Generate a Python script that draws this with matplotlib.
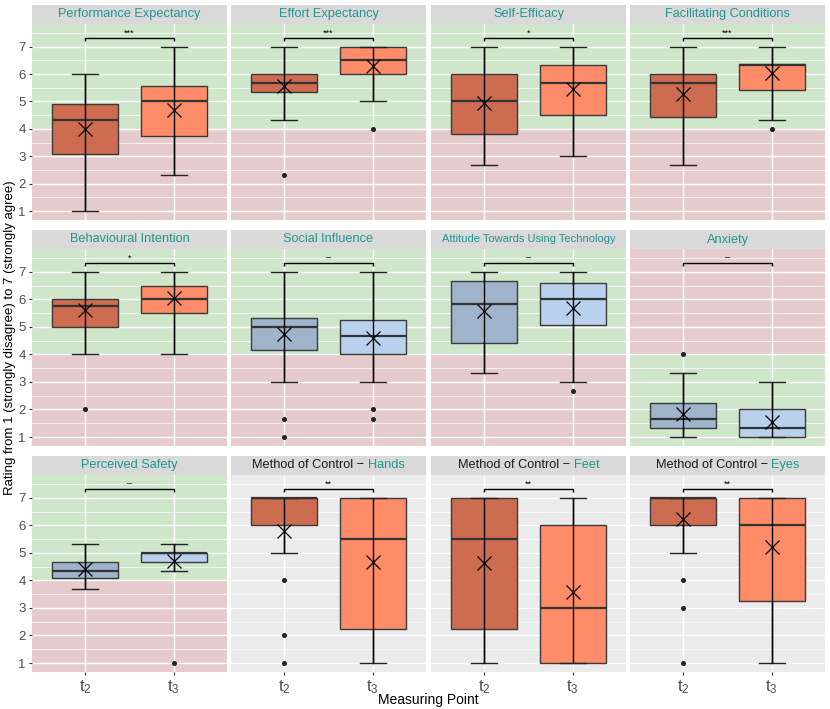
import matplotlib
matplotlib.use("Agg")
import matplotlib.pyplot as plt
from matplotlib.patches import Rectangle
from matplotlib.offsetbox import TextArea, HPacker, AnnotationBbox

plt.rcParams["font.family"] = ["Liberation Sans", "DejaVu Sans"]

# ---- data -------------------------------------------------------------
titles = [
    "Performance Expectancy", "Effort Expectancy", "Self-Efficacy",
    "Facilitating Conditions", "Behavioural Intention", "Social Influence",
    "Attitude Towards Using Technology", "Anxiety", "Perceived Safety",
    "Hands", "Feet", "Eyes",
]
method_prefix = [False] * 9 + [True] * 3
sig = ["***", "***", "*", "***", "*", "–", "–", "–", "–", "**", "**", "**"]
background = ["good_high"] * 7 + ["good_low"] + ["good_high"] + ["neutral"] * 3
palette = ["orange"] * 5 + ["blue"] * 4 + ["orange"] * 3
x_labels = ["$\\mathregular{t_2}$", "$\\mathregular{t_3}$"]

# t2 statistics per panel
t2_lo = [1.0, 4.33, 2.67, 2.67, 4.0, 3.0, 3.33, 1.0, 3.67, 5.0, 1.0, 5.0]
t2_q1 = [3.08, 5.33, 3.83, 4.42, 5.0, 4.17, 4.42, 1.33, 4.08, 6.0, 2.25, 6.0]
t2_med = [4.33, 5.67, 5.0, 5.67, 5.75, 5.0, 5.83, 1.67, 4.33, 7.0, 5.5, 7.0]
t2_q3 = [4.92, 6.0, 6.0, 6.0, 6.0, 5.33, 6.67, 2.25, 4.67, 7.0, 7.0, 7.0]
t2_hi = [6.0, 7.0, 7.0, 7.0, 7.0, 7.0, 7.0, 3.33, 5.33, 7.0, 7.0, 7.0]
t2_mean = [4.0, 5.58, 4.95, 5.28, 5.6, 4.73, 5.56, 1.85, 4.43, 5.8, 4.63, 6.22]
t2_out = [[], [2.33], [], [], [2.0], [1.67, 1.0], [], [4.0], [],
          [4.0, 2.0, 1.0], [], [4.0, 3.0, 1.0]]

# t3 statistics per panel
t3_lo = [2.33, 5.0, 3.0, 4.33, 4.0, 3.0, 3.0, 1.0, 4.33, 1.0, 1.0, 1.0]
t3_q1 = [3.75, 6.0, 4.5, 5.42, 5.5, 4.0, 5.08, 1.0, 4.67, 2.25, 1.0, 3.25]
t3_med = [5.0, 6.5, 5.67, 6.33, 6.0, 4.67, 6.0, 1.33, 5.0, 5.5, 3.0, 6.0]
t3_q3 = [5.58, 7.0, 6.33, 6.36, 6.5, 5.25, 6.58, 2.0, 5.0, 7.0, 6.0, 7.0]
t3_hi = [7.0, 7.0, 7.0, 7.0, 7.0, 7.0, 7.0, 3.0, 5.33, 7.0, 7.0, 7.0]
t3_mean = [4.67, 6.3, 5.46, 6.03, 6.04, 4.59, 5.68, 1.54, 4.7, 4.67, 3.58, 5.21]
t3_out = [[], [4.0], [], [4.0], [], [2.0, 1.67], [2.67], [], [1.0],
          [], [], []]

# ---- styling ----------------------------------------------------------
fills = {"orange": ["#cd6c50", "#ff8c69"], "blue": ["#9fb3cb", "#b9d1ed"]}
GREEN, RED, GREY = "#cfe6cb", "#e6cbcc", "#ebebeb"
TEAL = "#1f9693"
STRIP = "#d9d9d9"

W, H = 830, 709
col_left = [32, 231, 431, 630]
panel_w = 195
row_top = [24, 249, 475]
row_bot = [220, 446, 672]
strip_h = 19

fig = plt.figure(figsize=(W / 100, H / 100), dpi=100)

for i, title in enumerate(titles):
    r, c = divmod(i, 4)
    ph = row_bot[r] - row_top[r]
    ax = fig.add_axes([col_left[c] / W, 1 - row_bot[r] / H, panel_w / W, ph / H])
    ax.set_xlim(0.4, 2.6)
    ax.set_ylim(0.675, 7.825)

    # background zones
    if background[i] == "good_high":
        ax.axhspan(4, 7.825, color=GREEN, zorder=0, lw=0)
        ax.axhspan(0.675, 4, color=RED, zorder=0, lw=0)
    elif background[i] == "good_low":
        ax.axhspan(4, 7.825, color=RED, zorder=0, lw=0)
        ax.axhspan(0.675, 4, color=GREEN, zorder=0, lw=0)
    else:
        ax.set_facecolor(GREY)

    for y in range(1, 8):
        ax.axhline(y, color="white", lw=1.0, zorder=0.5)
    for y in [1.5, 2.5, 3.5, 4.5, 5.5, 6.5, 7.5]:
        ax.axhline(y, color="white", lw=0.5, zorder=0.5)
    for x in [1, 2]:
        ax.axvline(x, color="white", lw=1.0, zorder=0.5)

    stats = [
        dict(med=t2_med[i], q1=t2_q1[i], q3=t2_q3[i], whislo=t2_lo[i],
             whishi=t2_hi[i], mean=t2_mean[i], fliers=t2_out[i]),
        dict(med=t3_med[i], q1=t3_q1[i], q3=t3_q3[i], whislo=t3_lo[i],
             whishi=t3_hi[i], mean=t3_mean[i], fliers=t3_out[i]),
    ]
    bp = ax.bxp(
        stats, positions=[1, 2], widths=0.75, capwidths=0.3,
        patch_artist=True, showmeans=True, manage_ticks=False,
        boxprops=dict(edgecolor="#3a3a3a", lw=1.0),
        medianprops=dict(color="#333333", lw=1.6),
        whiskerprops=dict(color="black", lw=1.0),
        capprops=dict(color="#222222", lw=1.0),
        meanprops=dict(marker="x", markersize=10, markeredgecolor="black",
                       markeredgewidth=0.9),
        flierprops=dict(marker="o", markersize=2.6, markerfacecolor="#222222",
                        markeredgecolor="#222222"),
    )
    for patch, col in zip(bp["boxes"], fills[palette[i]]):
        patch.set_facecolor(col)
        patch.set_zorder(2)
    for m in bp["medians"]:
        m.set_zorder(2.5)
    # errorbar line through the box
    ax.vlines([1, 2], [t2_lo[i], t3_lo[i]], [t2_hi[i], t3_hi[i]],
              color="black", lw=1.0, zorder=3)
    for m in bp["means"]:
        m.set_zorder(4)

    # significance bracket
    ax.plot([1, 1, 2, 2], [7.22, 7.3, 7.3, 7.22], color="black", lw=1.0,
            zorder=3, solid_capstyle="butt")
    ax.text(1.5, 7.5, sig[i], ha="center", va="center", fontsize=6.5)

    # strip
    ax.add_patch(Rectangle((0, 1), 1, strip_h / ph, transform=ax.transAxes,
                           facecolor=STRIP, edgecolor="none", clip_on=False))
    ys = 1 + strip_h / ph / 2
    fs = 8.0 if i == 6 else 9.2
    if method_prefix[i]:
        box = HPacker(children=[
            TextArea("Method of Control − ", textprops=dict(color="#1a1a1a", fontsize=fs)),
            TextArea(title, textprops=dict(color=TEAL, fontsize=fs)),
        ], align="baseline", pad=0, sep=0)
        ab = AnnotationBbox(box, (0.5, ys), xycoords="axes fraction",
                            frameon=False, box_alignment=(0.5, 0.5),
                            annotation_clip=False)
        ax.add_artist(ab)
    else:
        ax.text(0.5, ys, title, transform=ax.transAxes, ha="center",
                va="center", color=TEAL, fontsize=fs)

    for s in ax.spines.values():
        s.set_visible(False)
    ax.set_yticks(range(1, 8))
    ax.set_xticks([1, 2])
    ax.tick_params(length=2.5, color="#333333", labelcolor="#4d4d4d")
    if c == 0:
        ax.set_yticklabels([str(v) for v in range(1, 8)], fontsize=9.5)
        ax.tick_params(axis="y", pad=2)
    else:
        ax.tick_params(axis="y", length=0, labelleft=False)
    if r == 2:
        ax.set_xticklabels(x_labels, fontsize=12)
        ax.tick_params(axis="x", pad=2)
    else:
        ax.tick_params(axis="x", length=0, labelbottom=False)

fig.text(10 / W, 1 - 338 / H,
         "Rating from 1 (strongly disagree) to 7 (strongly agree)",
         rotation=90, ha="center", va="center", fontsize=9.5)
fig.text(428 / W, 1 - 700 / H, "Measuring Point", ha="center",
         va="center", fontsize=10)

fig.savefig("out.png", dpi=100)
